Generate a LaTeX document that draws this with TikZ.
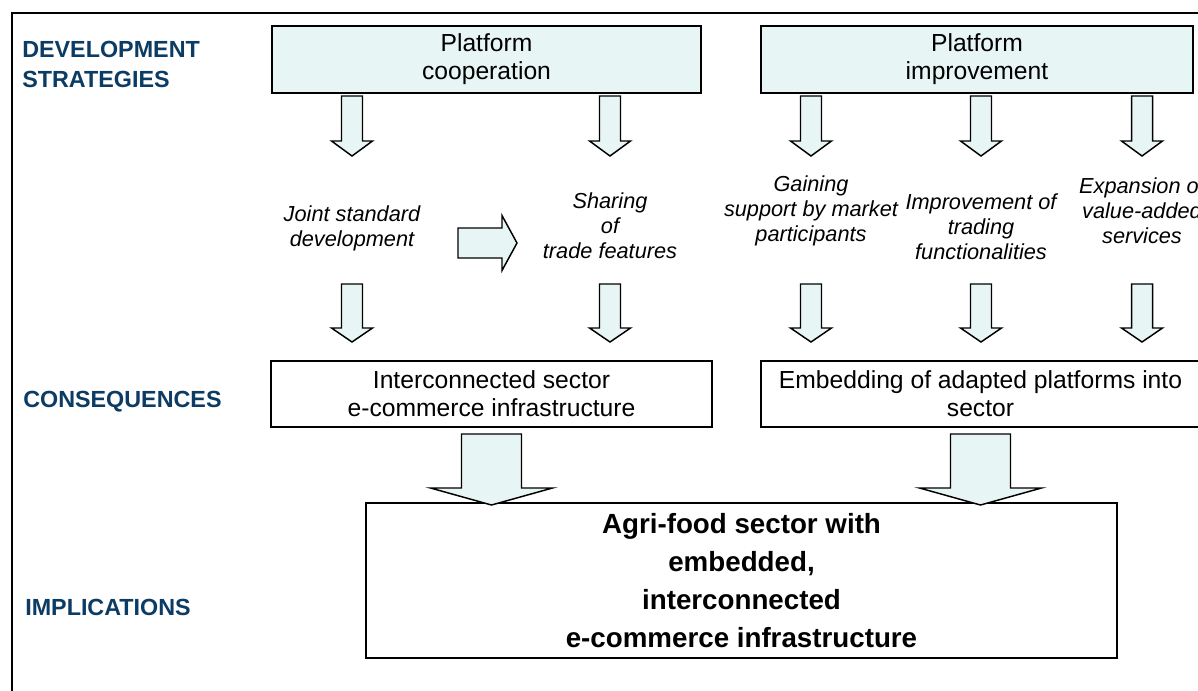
\documentclass[tikz,border=0pt]{standalone}
\usepackage{fontspec}
\setmainfont{Liberation Sans}
\usetikzlibrary{positioning}

\definecolor{headblue}{RGB}{12,60,100}
\definecolor{gridfill}{RGB}{232,245,245}

\tikzset{
  heading/.style={anchor=west, inner sep=0pt, align=left, text=headblue,
    font=\fontsize{17.5}{22.5}\selectfont\bfseries},
  stratbox/.style={draw, line width=1.5pt, fill=gridfill, align=center,
    font=\fontsize{18.5}{21}\selectfont, minimum height=50.25pt},
  consbox/.style={draw, line width=1.5pt, fill=white, align=center,
    font=\fontsize{18.5}{21}\selectfont, minimum height=49.5pt},
  measure/.style={align=center, inner sep=0pt,
    font=\fontsize{16.3}{18.75}\selectfont\itshape},
  finalbox/.style={draw, line width=1.5pt, align=center,
    font=\fontsize{20.8}{28.3}\selectfont\bfseries},
  blockarrow/.style={draw, line width=1.1pt, fill=gridfill, line join=miter},
  pics/downarrow/.style n args={5}{code={
    \draw[blockarrow] (-#1,#3) -- (-#1,#4) -- (-#2,#4) -- (0,#5)
      -- (#2,#4) -- (#1,#4) -- (#1,#3) -- cycle;}},
  pics/rightarrow/.style n args={4}{code={
    \draw[blockarrow] (0,-#1) -- (#3,-#1) -- (#3,-#2) -- (#4,0)
      -- (#3,#2) -- (#3,#1) -- (0,#1) -- cycle;}}
}

\begin{document}
\begin{tikzpicture}[x=0.75pt, y=-0.75pt]
  \useasboundingbox (0,0) rectangle (1198,690);
  \clip (0,0) rectangle (1198,690);

  % frame
  \draw[line width=1.7pt] (12,700) -- (12,13) -- (1210,13);

  % row headings
  \node[heading] (hdev) at (22,64) {DEVELOPMENT\\STRATEGIES};
  \node[heading] (hcons) at (23,402) {CONSEQUENCES};
  \node[heading] (himpl) at (25,607) {IMPLICATIONS};

  % strategies
  \node[stratbox, minimum width=321.75pt] (coop) at (486.5,59.5) {Platform\\cooperation};
  \node[stratbox, minimum width=324pt] (impr) at (977,59.5) {Platform\\improvement};

  % measures
  \node[measure] (joint) at (352,228) {Joint standard\\development};
  \node[measure] (sharing) at (610,226) {Sharing\\of\\trade features};
  \node[measure] (gaining) at (811,211) {Gaining\\support by market\\participants};
  \node[measure] (improving) at (981,227) {Improvement of\\trading\\functionalities};
  \node[measure] (expanding) at (1142,211) {Expansion of\\value-added\\services};

  % consequences
  \node[consbox, minimum width=330.75pt] (consA) at (491.5,394)
    {Interconnected sector\\e-commerce infrastructure};
  \node[consbox, minimum width=329.25pt] (consB) at (980.5,394)
    {Embedding of adapted platforms into\\sector};

  % implications
  \node[finalbox, minimum width=563.25pt, minimum height=116.25pt] (agri) at (741.5,580.5)
    {Agri-food sector with\\embedded,\\interconnected\\e-commerce infrastructure};

  % block arrows
  \foreach \n in {joint,sharing}
    \pic at (\n |- coop.south) {downarrow={10.5}{20.5}{2}{47}{62}};
  \foreach \n in {gaining,improving,expanding}
    \pic at (\n |- impr.south) {downarrow={10.5}{20.5}{2}{47}{62}};
  \foreach \n in {joint,sharing}
    \pic at (\n |- consA.north) {downarrow={10.5}{20.5}{-76}{-32}{-18}};
  \foreach \n in {gaining,improving,expanding}
    \pic at (\n |- consB.north) {downarrow={10.5}{20.5}{-76}{-32}{-18}};

  \coordinate (share) at (458,243);
  \pic at (share) {rightarrow={15}{27.5}{44}{59}};

  \pic at (consA.south) {downarrow={30}{61}{6}{60}{77}};
  \pic at (consB.south) {downarrow={30}{61}{6}{60}{77}};
\end{tikzpicture}
\end{document}
